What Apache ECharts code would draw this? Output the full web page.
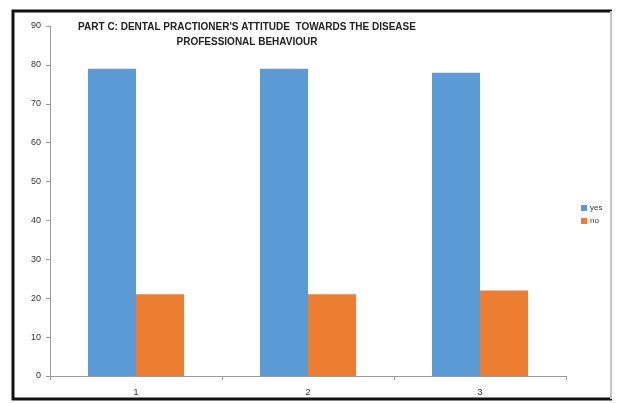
<!DOCTYPE html>
<html>
<head>
<meta charset="utf-8">
<script src="https://cdn.jsdelivr.net/npm/echarts@6/dist/echarts.min.js"></script>
<style>
  html, body { margin: 0; padding: 0; background: #fff; }
  #chart { width: 621px; height: 403px; }
</style>
</head>
<body>
<div id="chart"></div>
<script>
// Survey responses by question, part C
const categories = ['1', '2', '3'];
const yesValues = [79, 79, 78];
const noValues = [21, 21, 22];
const yTicks = { min: 0, max: 90, interval: 10 };

const chart = echarts.init(document.getElementById('chart'));
const font = '"Liberation Sans", Arial, sans-serif';

chart.setOption({
  backgroundColor: '#ffffff',
  animation: false,
  title: {
    text: "PART C: DENTAL PRACTIONER'S ATTITUDE  TOWARDS THE DISEASE\nPROFESSIONAL BEHAVIOUR",
    left: 242,
    top: 15,
    textAlign: 'center',
    textStyle: {
      fontFamily: font,
      fontSize: 10,
      fontWeight: 'bold',
      color: '#222',
      lineHeight: 15
    }
  },
  legend: {
    orient: 'vertical',
    left: 576,
    top: 199,
    itemWidth: 6,
    itemHeight: 6,
    itemGap: 5,
    icon: 'rect',
    textStyle: { fontFamily: font, fontSize: 8, color: '#333', padding: [0, 0, 0, -2] },
    data: ['yes', 'no']
  },
  grid: { left: 50, right: 55, top: 26, bottom: 27, containLabel: false },
  xAxis: {
    type: 'category',
    data: categories,
    axisLine: { lineStyle: { color: '#9a9a9a', width: 1 } },
    axisTick: { show: true, length: 4, lineStyle: { color: '#9a9a9a' } },
    axisLabel: { fontFamily: font, fontSize: 9, color: '#333', margin: 12 }
  },
  yAxis: {
    type: 'value',
    min: yTicks.min,
    max: yTicks.max,
    interval: yTicks.interval,
    axisLine: { show: true, lineStyle: { color: '#9a9a9a', width: 1 } },
    axisTick: { show: true, length: 4, lineStyle: { color: '#9a9a9a' } },
    splitLine: { show: false },
    axisLabel: { fontFamily: font, fontSize: 9, color: '#333', margin: 9 }
  },
  series: [
    {
      name: 'yes',
      type: 'bar',
      data: yesValues,
      barWidth: 48,
      barGap: '0%',
      itemStyle: { color: '#5B9BD5' }
    },
    {
      name: 'no',
      type: 'bar',
      data: noValues,
      barWidth: 48,
      barGap: '0%',
      itemStyle: { color: '#ED7D31' }
    }
  ],
  graphic: [
    // outer frame: dark on three sides, light on the right
    { type: 'polyline', shape: { points: [[612, 11], [13, 11], [13, 399], [612, 399]] }, style: { fill: 'none', stroke: '#111', lineWidth: 3 }, z: 100 },
    { type: 'line', shape: { x1: 611, y1: 11, x2: 611, y2: 399 }, style: { stroke: '#c4c4c4', lineWidth: 2 }, z: 101 }
  ]
});
</script>
</body>
</html>
